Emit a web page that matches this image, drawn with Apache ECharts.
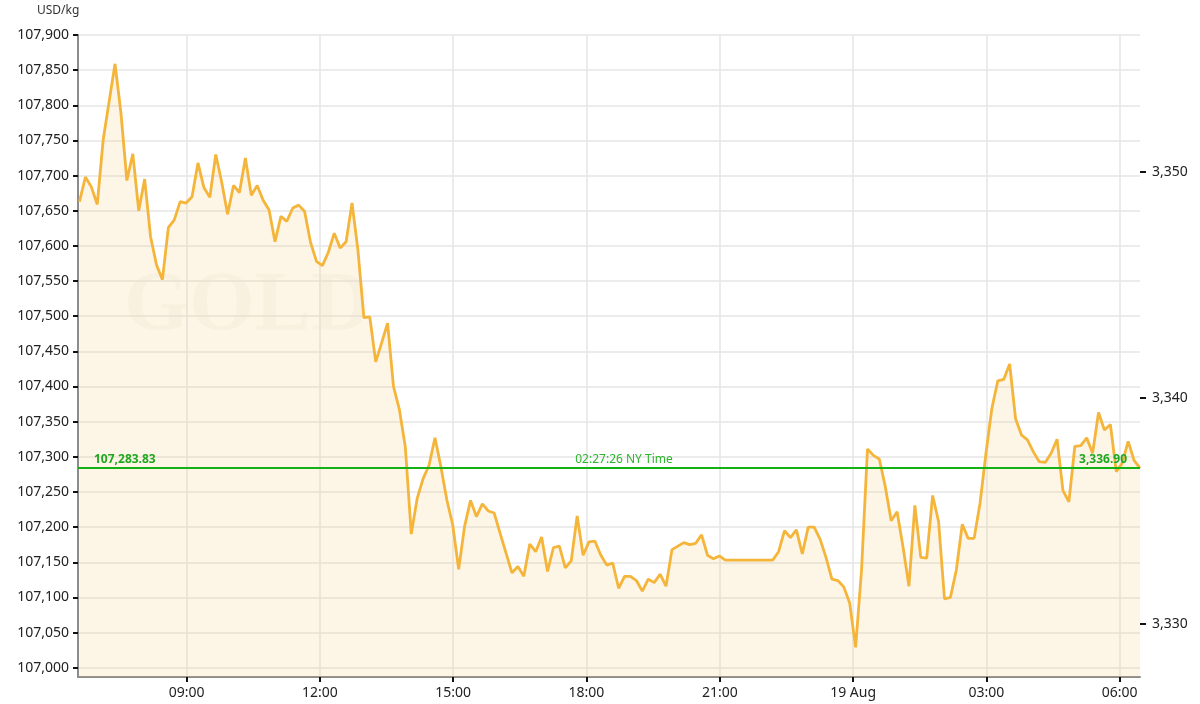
<!DOCTYPE html>
<html>
<head>
<meta charset="utf-8">
<script src="https://cdn.jsdelivr.net/npm/echarts@6/dist/echarts.min.js"></script>
<style>
html,body{margin:0;padding:0;background:#ffffff;}
#chart{width:1200px;height:704px;}
</style>
</head>
<body>
<div id="chart"></div>
<script>
// ---------- data ----------
const OZ_PER_KG = 32.1507466;
const unitLabel = 'USD/kg';
const startTime = '2025-08-18T06:35:26';
const stepMinutes = 8;
const prices = [
  107663, 107698, 107684, 107659, 107751, 107805, 107859, 107789, 107693, 107731,
  107650, 107695, 107613, 107573, 107552, 107626, 107637, 107663, 107661, 107670,
  107718, 107683, 107669, 107730, 107691, 107645, 107686, 107676, 107725, 107672,
  107686, 107665, 107651, 107606, 107642, 107635, 107654, 107658, 107649, 107605,
  107578, 107572, 107591, 107618, 107597, 107606, 107661, 107594, 107498, 107499,
  107435, 107462, 107490, 107400, 107367, 107314, 107190, 107241, 107269, 107288,
  107327, 107286, 107239, 107203, 107140, 107201, 107238, 107215, 107233, 107223,
  107220, 107191, 107163, 107135, 107144, 107130, 107176, 107165, 107186, 107137,
  107171, 107173, 107142, 107152, 107216, 107160, 107179, 107180, 107160, 107146,
  107149, 107113, 107130, 107130, 107124, 107109, 107126, 107121, 107133, 107116,
  107168, 107173, 107178, 107175, 107177, 107189, 107160, 107155, 107159, 107153,
  107153, 107153, 107153, 107153, 107153, 107153, 107153, 107153, 107165, 107195,
  107185, 107196, 107162, 107200, 107200, 107183, 107157, 107126, 107124, 107115,
  107092, 107029, 107139, 107311, 107302, 107297, 107258, 107209, 107222, 107172,
  107116, 107231, 107157, 107156, 107245, 107208, 107098, 107100, 107139, 107204,
  107184, 107184, 107234, 107305, 107369, 107408, 107410, 107432, 107354, 107331,
  107324, 107307, 107293, 107292, 107305, 107325, 107252, 107236, 107315, 107316,
  107327, 107305, 107363, 107338, 107346, 107279, 107291, 107322, 107295, 107283.83
];
const lastPrice = 107283.83;
const lastTimeLabel = '02:27:26 NY Time';
const xTickTimes = [
  '2025-08-18T09:00:00', '2025-08-18T12:00:00', '2025-08-18T15:00:00', '2025-08-18T18:00:00',
  '2025-08-18T21:00:00', '2025-08-19T00:00:00', '2025-08-19T03:00:00', '2025-08-19T06:00:00'
];
const monthNames = ['Jan','Feb','Mar','Apr','May','Jun','Jul','Aug','Sep','Oct','Nov','Dec'];
const yTicksLeft = [107000, 107050, 107100, 107150, 107200, 107250, 107300, 107350, 107400, 107450,
  107500, 107550, 107600, 107650, 107700, 107750, 107800, 107850, 107900];
const yTicksRight = [3330, 3340, 3350];
const yMin = 106986.8;
const yMax = 107900;

// ---------- build ----------
const t0 = new Date(startTime).getTime();
const stepMs = stepMinutes * 60 * 1000;
const seriesData = prices.map((p, i) => [t0 + i * stepMs, p]);
const xTicks = xTickTimes.map(s => new Date(s).getTime());
const pad = n => (n < 10 ? '0' : '') + n;
const fmtInt = v => Math.round(v).toLocaleString('en-US');
const fmt2 = v => v.toLocaleString('en-US', {minimumFractionDigits: 2, maximumFractionDigits: 2});

const FONT = '"Noto Sans", "Open Sans", sans-serif';
const chart = echarts.init(document.getElementById('chart'), null, {renderer: 'canvas'});

const option = {
  animation: false,
  backgroundColor: '#ffffff',
  grid: {left: 78, right: 60, top: 35, bottom: 27},
  graphic: [
    {type: 'text', left: 37, top: 5, silent: true,
     style: {text: unitLabel, fontSize: 12, fontFamily: FONT, fill: '#333'}},
    {type: 'text', left: 124, top: 266, z: -10, silent: true,
     style: {text: 'GOLD', fontSize: 84, fontWeight: 'bold', fontFamily: '"Liberation Serif", serif',
             fill: 'rgba(150,120,60,0.04)'}}
  ],
  xAxis: {
    type: 'value',
    min: t0 - 2 * 60 * 1000,
    max: t0 + (prices.length - 1) * stepMs,
    axisLine: {show: true, lineStyle: {color: '#8c8c8c', width: 2}},
    axisTick: {show: true, customValues: xTicks, length: 5, lineStyle: {color: '#111', width: 2}},
    axisLabel: {
      customValues: xTicks, margin: 9, color: '#222', fontSize: 14, fontFamily: FONT,
      formatter: v => {
        const d = new Date(v);
        if (d.getHours() === 0 && d.getMinutes() === 0) return d.getDate() + ' ' + monthNames[d.getMonth()];
        return pad(d.getHours()) + ':' + pad(d.getMinutes());
      }
    },
    splitLine: {show: true, lineStyle: {color: '#e6e6e6', width: 1.5}}
  },
  yAxis: [
    {
      type: 'value', min: yMin, max: yMax, position: 'left',
      axisLine: {show: true, lineStyle: {color: '#8c8c8c', width: 2}},
      axisTick: {show: true, customValues: yTicksLeft, length: 5, lineStyle: {color: '#111', width: 2}},
      axisLabel: {customValues: yTicksLeft, margin: 9, color: '#222', fontSize: 14, fontFamily: FONT,
                  formatter: v => fmtInt(v)},
      splitLine: {show: true, lineStyle: {color: '#e6e6e6', width: 1.5}}
    },
    {
      type: 'value', min: yMin / OZ_PER_KG, max: yMax / OZ_PER_KG, position: 'right',
      axisLine: {show: false},
      axisTick: {show: true, customValues: yTicksRight, length: 6, lineStyle: {color: '#111', width: 2}},
      axisLabel: {customValues: yTicksRight, margin: 12, color: '#222', fontSize: 14, fontFamily: FONT,
                  formatter: v => fmtInt(v)},
      splitLine: {show: false}
    }
  ],
  series: [{
    type: 'line',
    data: seriesData,
    showSymbol: false,
    symbol: 'none',
    lineStyle: {color: '#F4B53A', width: 2.8},
    areaStyle: {color: 'rgba(244,198,105,0.24)', origin: 'start'},
    markLine: {
      silent: true,
      symbol: 'none',
      lineStyle: {color: '#10B010', width: 1.5, type: 'solid'},
      data: [
        {yAxis: lastPrice, label: {show: true, position: 'insideStartTop', distance: [16, 3],
          formatter: fmt2(lastPrice), color: '#1FA81F', fontWeight: 'bold', fontSize: 12, fontFamily: FONT}},
        {yAxis: lastPrice, label: {show: true, position: 'insideMiddleTop', distance: 3, padding: [0, 0, 0, 30],
          formatter: lastTimeLabel, color: '#2DB52D', fontSize: 12, fontFamily: FONT}},
        {yAxis: lastPrice, label: {show: true, position: 'insideEndTop', distance: [13, 3],
          formatter: fmt2(lastPrice / OZ_PER_KG), color: '#1FA81F', fontWeight: 'bold', fontSize: 12, fontFamily: FONT}}
      ]
    }
  }]
};
chart.setOption(option);
</script>
</body>
</html>
